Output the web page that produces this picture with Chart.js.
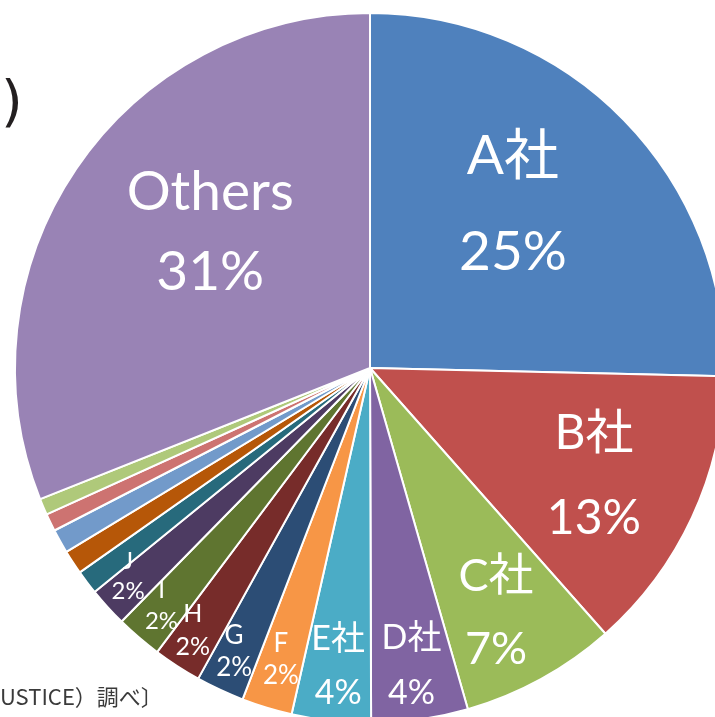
<!DOCTYPE html>
<html>
<head>
<meta charset="utf-8">
<script src="https://cdn.jsdelivr.net/npm/chart.js@4"></script>
<style>
  html, body { margin: 0; padding: 0; background: #fff; overflow: hidden; }
  #wrap { position: relative; width: 715px; height: 717px; overflow: hidden; }
  #shareChart { position: absolute; left: 0; top: 0; }
</style>
</head>
<body>
<div id="wrap">
  <canvas id="shareChart" width="740" height="736"></canvas>
</div>
<script>
// Market share by company (%), clockwise from 12 o'clock
const companies = ['A社', 'B社', 'C社', 'D社', 'E社', 'F', 'G', 'H', 'I', 'J', 'K', 'L', 'M', 'N', 'O', 'Others'];
const shares = [25.4, 13.1, 7.1, 4.4, 3.6, 2.3, 2.2, 2.2, 2.1, 1.8, 1.1, 1.1, 1.1, 0.8, 0.75, 31.05];
const sliceColors = ['#4F81BD', '#C0504D', '#9BBB59', '#8064A2', '#4BACC6', '#F79646', '#2C4D75', '#772C2A',
                     '#5F7530', '#4D3B62', '#276A7C', '#B65708', '#729ACA', '#CD7371', '#AFC97A', '#9983B5'];

// label placement per slice: [radius fraction, angle shift (deg), font px, line gap px]; null = no label
const labelStyle = [
    [0.613, -4.6, 55, 96],
    [0.70, 0.8, 48, 85],
    [0.777, 1.6, 45, 73],
    [0.845, 0.15, 34, 55],
    [0.845, -0.2, 34, 54],
    [0.858, 0.1, 26, 32],
    [0.886, 0.6, 26, 32],
    [0.892, 1.1, 25, 33],
    [0.89, 0.65, 24, 31],
    [0.90, 1.55, 24, 30],
    null, null, null, null, null,
    [0.59, 6.1, 55, 80]
];

const FONT = "Lato, 'Noto Sans CJK JP', sans-serif";

// Draws name + percent inside each labelled slice
const sliceLabels = {
    id: 'sliceLabels',
    afterDatasetsDraw(chart) {
        const ctx = chart.ctx;
        const arcs = chart.getDatasetMeta(0).data;
        ctx.save();
        ctx.fillStyle = '#fff';
        ctx.textAlign = 'center';
        ctx.textBaseline = 'middle';
        arcs.forEach((arc, i) => {
            const st = labelStyle[i];
            if (!st) return;
            const mid = (arc.startAngle + arc.endAngle) / 2 + st[1] * Math.PI / 180;
            const r = arc.outerRadius * st[0];
            const cx = arc.x + Math.cos(mid) * r;
            const cy = arc.y + Math.sin(mid) * r;
            ctx.font = st[2] + 'px ' + FONT;
            ctx.fillText(companies[i], cx, cy - st[3] / 2);
            ctx.fillText(Math.round(shares[i]) + '%', cx, cy + st[3] / 2);
        });
        ctx.restore();
    }
};

// Leftover pieces of the surrounding page text
const pageText = {
    id: 'pageText',
    afterDraw(chart) {
        const ctx = chart.ctx;
        ctx.save();
        ctx.fillStyle = '#231F20';
        ctx.textBaseline = 'alphabetic';
        ctx.textAlign = 'left';
        ctx.font = "56px 'DejaVu Sans', sans-serif";
        ctx.fillText(')', 1, 120);
        ctx.fillStyle = '#3a3a3a';
        ctx.font = "22px 'Noto Sans CJK JP', sans-serif";
        ctx.fillText('USTICE）調べ〕', 0, 705);
        ctx.restore();
    }
};

new Chart(document.getElementById('shareChart'), {
    type: 'pie',
    data: {
        labels: companies,
        datasets: [{
            data: shares,
            backgroundColor: sliceColors,
            borderColor: '#fff',
            borderWidth: 2,
            radius: 355
        }]
    },
    options: {
        responsive: false,
        animation: false,
        layout: { padding: 0 },
        plugins: {
            legend: { display: false },
            tooltip: { enabled: false }
        }
    },
    plugins: [sliceLabels, pageText]
});
</script>
</body>
</html>
